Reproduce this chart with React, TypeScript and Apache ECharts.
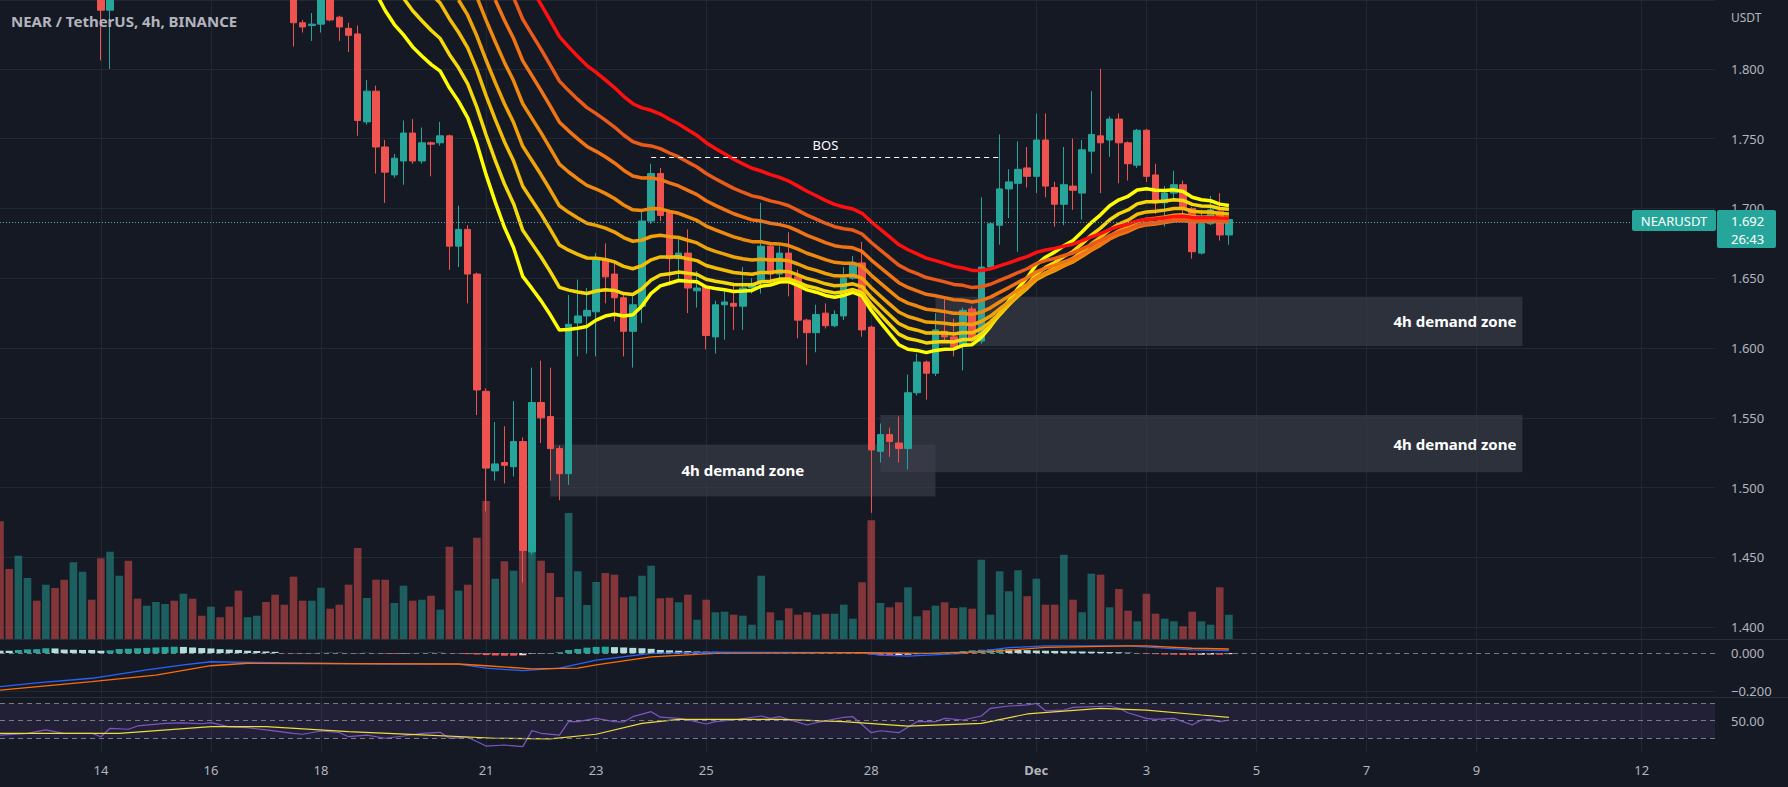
import React, { useEffect, useRef } from "react";
import * as echarts from "echarts";

// ---------------- data ----------------
// one category per 4h bar, first category = 12 Nov 2022 04:00 (UTC)
const firstBarTime = Date.UTC(2022, 10, 12, 4);
const barCount = 188;

const tickDates = ["11-14", "11-16", "11-18", "11-21", "11-23", "11-25", "11-28", "12-01", "12-03", "12-05", "12-07", "12-09", "12-12"];
const tickLabels = ["14", "16", "18", "21", "23", "25", "28", "Dec", "3", "5", "7", "9", "12"];

// [open, close, low, high]; null = bar above the visible price range
type Bar = [number, number, number, number] | null;
const candles: Bar[] = [
  null, null, null, null, null, null, null, null, null, null, null,
  [1.870, 1.842, 1.806, 1.880], [1.842, 1.870, 1.800, 1.880],
  null, null, null, null, null, null, null, null, null, null,
  null, null, null, null, null, null, null, null, null,
  [1.862, 1.833, 1.816, 1.870], [1.833, 1.830, 1.826, 1.835], [1.831, 1.832, 1.820, 1.840],
  [1.832, 1.852, 1.826, 1.860], [1.852, 1.835, 1.834, 1.860], [1.837, 1.830, 1.820, 1.838],
  [1.829, 1.824, 1.812, 1.833], [1.825, 1.763, 1.752, 1.831], [1.762, 1.784, 1.760, 1.792],
  [1.784, 1.744, 1.725, 1.788], [1.744, 1.726, 1.704, 1.749], [1.724, 1.736, 1.722, 1.739],
  [1.734, 1.754, 1.717, 1.763], [1.754, 1.734, 1.732, 1.764], [1.734, 1.747, 1.732, 1.758],
  [1.747, 1.746, 1.723, 1.748], [1.747, 1.752, 1.745, 1.762], [1.752, 1.673, 1.656, 1.753],
  [1.673, 1.685, 1.658, 1.702], [1.685, 1.653, 1.632, 1.688], [1.653, 1.570, 1.552, 1.654],
  [1.569, 1.514, 1.483, 1.571], [1.512, 1.517, 1.505, 1.547], [1.518, 1.516, 1.503, 1.544],
  [1.515, 1.533, 1.508, 1.562], [1.533, 1.455, 1.432, 1.536], [1.454, 1.561, 1.452, 1.586],
  [1.561, 1.550, 1.532, 1.591], [1.551, 1.528, 1.505, 1.586], [1.528, 1.510, 1.491, 1.530],
  [1.510, 1.617, 1.502, 1.638], [1.618, 1.623, 1.594, 1.649], [1.623, 1.627, 1.596, 1.643],
  [1.626, 1.663, 1.594, 1.668], [1.663, 1.651, 1.632, 1.675], [1.653, 1.636, 1.619, 1.661],
  [1.636, 1.612, 1.594, 1.638], [1.612, 1.631, 1.586, 1.637], [1.630, 1.691, 1.618, 1.699],
  [1.691, 1.725, 1.689, 1.732], [1.725, 1.695, 1.691, 1.729], [1.697, 1.664, 1.645, 1.699],
  [1.664, 1.668, 1.648, 1.678], [1.668, 1.643, 1.625, 1.685], [1.641, 1.643, 1.629, 1.655],
  [1.644, 1.609, 1.599, 1.645], [1.608, 1.631, 1.596, 1.634], [1.631, 1.633, 1.606, 1.642],
  [1.632, 1.630, 1.613, 1.646], [1.630, 1.643, 1.613, 1.658], [1.643, 1.646, 1.639, 1.650],
  [1.647, 1.673, 1.639, 1.704], [1.673, 1.653, 1.648, 1.675], [1.653, 1.668, 1.648, 1.673],
  [1.668, 1.650, 1.637, 1.683], [1.651, 1.620, 1.607, 1.656], [1.620, 1.611, 1.588, 1.621],
  [1.611, 1.624, 1.597, 1.631], [1.625, 1.616, 1.614, 1.632], [1.616, 1.624, 1.615, 1.627],
  [1.623, 1.650, 1.620, 1.658], [1.650, 1.661, 1.649, 1.666], [1.661, 1.613, 1.608, 1.676],
  [1.615, 1.527, 1.482, 1.616], [1.526, 1.538, 1.518, 1.546], [1.538, 1.533, 1.522, 1.543],
  [1.532, 1.528, 1.518, 1.551], [1.528, 1.568, 1.513, 1.581], [1.568, 1.590, 1.566, 1.596],
  [1.590, 1.582, 1.563, 1.591], [1.582, 1.613, 1.580, 1.625], [1.612, 1.608, 1.605, 1.637],
  [1.608, 1.601, 1.594, 1.621], [1.602, 1.627, 1.584, 1.629], [1.628, 1.606, 1.604, 1.630],
  [1.605, 1.658, 1.603, 1.708], [1.658, 1.689, 1.656, 1.690], [1.688, 1.714, 1.674, 1.753],
  [1.714, 1.719, 1.693, 1.728], [1.718, 1.728, 1.669, 1.748], [1.729, 1.723, 1.715, 1.744],
  [1.723, 1.749, 1.711, 1.768], [1.749, 1.716, 1.708, 1.768], [1.715, 1.703, 1.687, 1.719],
  [1.703, 1.717, 1.688, 1.744], [1.716, 1.713, 1.699, 1.750], [1.711, 1.742, 1.692, 1.749],
  [1.741, 1.753, 1.725, 1.784], [1.752, 1.747, 1.711, 1.800], [1.749, 1.764, 1.737, 1.766],
  [1.764, 1.747, 1.718, 1.768], [1.747, 1.732, 1.720, 1.748], [1.731, 1.756, 1.729, 1.757],
  [1.756, 1.723, 1.719, 1.757], [1.724, 1.704, 1.696, 1.732], [1.704, 1.711, 1.687, 1.716],
  [1.711, 1.717, 1.706, 1.727], [1.717, 1.700, 1.695, 1.720], [1.700, 1.669, 1.664, 1.701],
  [1.668, 1.689, 1.667, 1.699], [1.689, 1.699, 1.688, 1.709], [1.698, 1.681, 1.677, 1.711],
  [1.681, 1.692, 1.674, 1.693],
];

// direction of the bars whose candles are off-screen (T = up, R = down)
const hiddenBarDirections = "RRTTRTRRTTRRTTRRTTTRTRRTRRRTTRRR";

const volumes = [
  117.7, 70, 83.3, 61, 38.3, 54.3, 51, 59.3, 76.7, 67.3,
  39.3, 80.7, 87.3, 63.3, 78.3, 40.3, 33.3, 37, 35, 38.3,
  45.3, 40.3, 23.3, 32.3, 21.7, 32.3, 48.3, 21.7, 23.3, 37,
  44.3, 34.3, 62.3, 38.3, 38.3, 51.3, 30.3, 34.3, 54.3, 91,
  41, 59.3, 59.3, 36, 53.3, 38.3, 39.3, 43.3, 29.3, 92.3,
  48.3, 54.3, 101.3, 138, 60.3, 77.7, 68.3, 103.3, 87.7, 78.3,
  66, 42, 126, 67.7, 34, 57, 66, 64.3, 41.7, 42.7,
  63.3, 73.3, 40.7, 41.3, 36.7, 44.3, 19.3, 39.3, 26.7, 27.3,
  24.3, 23.3, 14.3, 63.3, 26.7, 18.7, 30.7, 24.3, 26.7, 24.3,
  25.3, 25.3, 34.3, 20.3, 56.7, 118.7, 36, 31.7, 36.7, 51.7,
  22.7, 28.7, 33.3, 36.7, 31, 31.7, 30.3, 79.3, 24.3, 67.7,
  47.7, 68.7, 42.7, 60.3, 34.3, 34.3, 84.3, 39.3, 26.7, 65.3,
  64.3, 31.7, 50, 28.3, 17.7, 45.3, 25.3, 20.3, 17.7, 12.7,
  27.3, 17.7, 14.3, 51.7, 24.3,
];

// EMA ribbon: periods and the value each line has where it enters the chart
const emaPeriods = [20, 25, 30, 35, 40, 45, 50, 55];
const emaColors = ["#ffff00", "#f6d90a", "#f2bd08", "#f0a20a", "#f08a0e", "#f07416", "#ea5a1a", "#ff1010"];
const emaEntry: [number, number][] = [
  [41, 1.854], [44, 1.8506], [47, 1.8537], [50, 1.8493],
  [52, 1.8514], [54, 1.8493], [56, 1.851], [58, 1.857],
];

const lastPrice = 1.692;
const countdown = "26:43";
const bos = { level: 1.737, from: 71, to: 109 };
const demandZones = [
  { from: 60, to: 102, top: 1.531, bottom: 1.4937, centered: true },
  { from: 96, to: 166, top: 1.552, bottom: 1.511, centered: false },
  { from: 102, to: 166, top: 1.6368, bottom: 1.6015, centered: false },
];

const macdHist = [
  0.012, 0.012, 0.016, 0.019, 0.020, 0.025, 0.024, 0.018, 0.017, 0.016,
  0.016, 0.012, 0.014, 0.021, 0.022, 0.025, 0.027, 0.029, 0.031, 0.033,
  0.032, 0.029, 0.026, 0.024, 0.020, 0.018, 0.016, 0.012, 0.010, 0.008,
  0.006, -0.001, -0.002, -0.002, -0.001, 0.001, 0.002, 0.001, -0.001, -0.002,
  0.001, -0.001, -0.003, -0.004, -0.003, -0.001, 0.001, 0.002, 0.001, -0.001,
  -0.002, -0.006, -0.008, -0.011, -0.013, -0.014, -0.014, -0.012, -0.004, -0.003,
  -0.002, 0.004, 0.016, 0.021, 0.028, 0.032, 0.033, 0.031, 0.029, 0.027,
  0.025, 0.022, 0.016, 0.014, 0.012, 0.010, 0.008, 0.007, 0.006, 0.005,
  0.003, 0.002, 0.002, 0.003, 0.002, 0.002, 0.001, -0.001, -0.001, 0.001,
  0.001, 0.002, 0.002, 0.002, -0.002, -0.008, -0.012, -0.013, -0.011, -0.009,
  -0.006, -0.004, -0.001, 0.003, 0.006, 0.010, 0.014, 0.017, 0.019, 0.020,
  0.019, 0.017, 0.015, 0.013, 0.012, 0.011, 0.010, 0.009, 0.008, 0.007,
  0.006, 0.005, 0.004, 0.002, -0.002, -0.004, -0.006, -0.008, -0.009, -0.010,
  -0.010, -0.009, -0.008, -0.009, -0.006,
];
const macdLine: [number, number][] = [
  [0, -0.177], [4, -0.157], [10, -0.133], [16, -0.089], [20, -0.063], [23, -0.046], [27, -0.049],
  [35, -0.054], [42, -0.059], [50, -0.059], [53, -0.080], [57, -0.093], [61, -0.080], [65, -0.037],
  [71, -0.002], [78, 0.004], [94, 0.002], [96, -0.011], [99, -0.016], [105, -0.002], [110, 0.028],
  [114, 0.037], [123, 0.038], [130, 0.016], [134, 0.012],
];
const macdSignal: [number, number][] = [
  [0, -0.195], [10, -0.151], [17, -0.116], [23, -0.067], [27, -0.054], [50, -0.058], [53, -0.067],
  [58, -0.084], [63, -0.080], [65, -0.063], [71, -0.020], [78, -0.002], [94, 0.002], [101, -0.002],
  [108, 0.007], [114, 0.030], [123, 0.037], [125, 0.037], [130, 0.025], [134, 0.021],
];
const rsiLine: [number, number][] = [
  [0, 33.6], [3, 35.6], [5, 39.4], [7, 35.6], [10, 35.6], [11, 31.7], [12, 41.3], [14, 40.2], [15, 44],
  [18, 47], [20, 47.5], [22, 46.5], [23, 47.7], [25, 43], [27, 42], [29, 39.4], [32, 35.6], [33, 34.5],
  [35, 38.2], [37, 36.5], [38, 31.7], [40, 33.5], [42, 29.9], [44, 32.5], [46, 35.6], [48, 36.7], [49, 30],
  [51, 31], [53, 21], [55, 22.2], [57, 20.3], [58, 38.6], [59, 35.6], [61, 33.6], [62, 48.9], [63, 48.9],
  [65, 52.7], [67, 48.9], [68, 48.5], [69, 54.6], [71, 60.3], [72, 54], [74, 52.7], [75, 51], [77, 46.2],
  [78, 48.9], [80, 50.8], [83, 55.4], [84, 52.7], [85, 54.6], [88, 45.1], [89, 47.7], [92, 53.9],
  [93, 54.6], [95, 36.3], [96, 38.5], [98, 36.3], [100, 48.9], [102, 48.9], [103, 52.7], [105, 50.8],
  [107, 55.4], [108, 64.2], [110, 66.8], [112, 68], [113, 69.9], [114, 61.4], [116, 62.2], [117, 65.3],
  [121, 66.8], [122, 64.2], [123, 59.1], [125, 52.7], [126, 51.6], [128, 52.7], [130, 45.1], [131, 50.8],
  [132, 51.6], [133, 48.9], [134, 50.8],
];
const rsiAverage: [number, number][] = [
  [0, 35.6], [13, 35.6], [23, 43.2], [29, 43.2], [38, 37.5], [46, 33.7], [54, 29.9], [60, 29.1],
  [65, 34.5], [70, 47], [74, 51.6], [85, 51.6], [92, 48.9], [99, 43.9], [107, 47], [112, 57.7],
  [120, 64.2], [125, 62.2], [131, 56.5], [134, 53.9],
];

// ---------------- styling ----------------
const BG = "#151924";
const GRID = "#232733";
const TXT = "#b2b5be";
const UP = "#26a69a";
const DOWN = "#ef5350";
const FONT = '"Noto Sans", sans-serif';
const RIGHT = 73;

function pad(n: number) { return String(n).padStart(2, "0"); }
const categories: string[] = Array.from({ length: barCount }, (_, k) => {
  const d = new Date(firstBarTime + k * 4 * 3600 * 1000);
  return `${pad(d.getUTCMonth() + 1)}-${pad(d.getUTCDate())} ${pad(d.getUTCHours())}:00`;
});
const isTick = (c: string) => c.endsWith("00:00") && tickDates.indexOf(c.slice(0, 5)) >= 0;
const tickFlags = categories.map(isTick);

function sparse(points: [number, number][]) {
  const arr: (number | null)[] = new Array(volumes.length).fill(null);
  points.forEach(([k, v]) => { arr[k] = v; });
  return arr;
}

function ema(period: number, entry: [number, number]) {
  const [k0, v0] = entry;
  const a = 2 / (period + 1);
  const out: (number | null)[] = new Array(candles.length).fill(null);
  let e = v0;
  out[k0] = v0;
  for (let k = k0 + 1; k < candles.length; k++) {
    const c = candles[k];
    if (!c) continue;
    e = e + a * (c[1] - e);
    out[k] = Number(e.toFixed(4));
  }
  return out;
}

function buildOption(): any {
  const isUp = (k: number) => {
    const c = candles[k];
    return c ? c[1] >= c[0] : hiddenBarDirections[k] === "T";
  };
  const xAxis = (gridIndex: number, labels: boolean, split: boolean) => ({
    type: "category",
    gridIndex,
    data: categories,
    boundaryGap: false,
    axisLine: { show: false },
    axisTick: { show: false },
    axisPointer: { show: false },
    axisLabel: labels
      ? {
          show: true,
          interval: (i: number) => tickFlags[i],
          color: TXT,
          fontSize: 13,
          fontFamily: FONT,
          margin: 11,
          formatter: (v: string) => {
            const t = tickLabels[tickDates.indexOf(v.slice(0, 5))];
            return t === "Dec" ? "{b|Dec}" : t;
          },
          rich: { b: { fontWeight: "bold", color: TXT, fontSize: 13, fontFamily: FONT } },
        }
      : { show: false },
    splitLine: { show: split, interval: (i: number) => tickFlags[i], lineStyle: { color: GRID, width: 1 } },
  });

  const histData = macdHist.map((h, k) => {
    const prev = k > 0 ? macdHist[k - 1] : h;
    let color;
    if (h >= 0) color = prev < h ? "#26a69a" : "#b2dfdb";
    else color = prev < h ? "#ffcdd2" : "#ff5252";
    return { value: h, itemStyle: { color } };
  });

  const series: any[] = [
    {
      type: "bar",
      name: "volume",
      xAxisIndex: 1,
      yAxisIndex: 1,
      barWidth: 7.6,
      z: 1,
      data: volumes.map((v, k) => ({
        value: v,
        itemStyle: { color: isUp(k) ? "rgba(38,166,154,0.5)" : "rgba(239,83,80,0.5)" },
      })),
    },
    {
      type: "candlestick",
      name: "NEARUSDT",
      xAxisIndex: 0,
      yAxisIndex: 0,
      barWidth: 7,
      clip: true,
      z: 2,
      itemStyle: { color: UP, color0: DOWN, borderColor: UP, borderColor0: DOWN, borderWidth: 1 },
      data: candles.map((c) => (c ? c : ["-", "-", "-", "-"])),
      markLine: {
        silent: true,
        symbol: ["none", "none"],
        label: { show: false },
        lineStyle: { color: "#5fa3b3", type: [1, 2], width: 1 },
        data: [{ yAxis: lastPrice }],
      },
    },
    ...emaPeriods.map((p, j) => ({
      type: "line",
      name: `EMA ${p}`,
      xAxisIndex: 0,
      yAxisIndex: 0,
      showSymbol: false,
      clip: true,
      z: 3,
      lineStyle: { color: emaColors[j], width: 3.5 },
      data: ema(p, emaEntry[j]),
    })),
    {
      type: "line",
      name: "zones",
      xAxisIndex: 0,
      yAxisIndex: 0,
      data: [],
      z: 5,
      markArea: {
        silent: true,
        itemStyle: { color: "rgba(62,65,77,0.6)" },
        label: { show: true, color: "#ffffff", fontSize: 15, fontWeight: "bold", fontFamily: FONT },
        data: demandZones.map((zn) => [
          {
            name: "4h demand zone",
            xAxis: categories[zn.from],
            yAxis: zn.top,
            label: { position: zn.centered ? "inside" : "insideRight", distance: 6 },
          },
          { xAxis: categories[zn.to], yAxis: zn.bottom },
        ]),
      },
    },
    {
      type: "line",
      name: "bos",
      xAxisIndex: 0,
      yAxisIndex: 0,
      data: [],
      z: 6,
      markLine: {
        silent: true,
        symbol: ["none", "none"],
        lineStyle: { color: "#ffffff", type: [5, 4], width: 1 },
        label: { show: true, position: "insideMiddleTop", formatter: "BOS", color: "#ffffff", fontSize: 13, fontFamily: FONT, distance: 5 },
        data: [[{ coord: [categories[bos.from], bos.level] }, { coord: [categories[bos.to], bos.level] }]],
      },
    },
    {
      type: "bar",
      name: "histogram",
      xAxisIndex: 2,
      yAxisIndex: 2,
      barWidth: 7,
      data: histData,
      markLine: {
        silent: true,
        symbol: ["none", "none"],
        label: { show: false },
        data: [
          { yAxis: 0, lineStyle: { color: "#787b86", type: [5, 4], width: 1 } },
          { yAxis: -0.2, lineStyle: { color: GRID, type: "solid", width: 1 } },
        ],
      },
    },
    {
      type: "line",
      name: "MACD",
      xAxisIndex: 2,
      yAxisIndex: 2,
      showSymbol: false,
      connectNulls: true,
      lineStyle: { color: "#2962ff", width: 1.3 },
      data: sparse(macdLine),
    },
    {
      type: "line",
      name: "Signal",
      xAxisIndex: 2,
      yAxisIndex: 2,
      showSymbol: false,
      connectNulls: true,
      lineStyle: { color: "#ff6d00", width: 1.3 },
      data: sparse(macdSignal),
    },
    {
      type: "line",
      name: "RSI",
      xAxisIndex: 3,
      yAxisIndex: 3,
      showSymbol: false,
      connectNulls: true,
      lineStyle: { color: "#7e57c2", width: 1.2 },
      data: sparse(rsiLine),
      markArea: {
        silent: true,
        itemStyle: { color: "rgba(126,87,194,0.12)" },
        data: [[{ yAxis: 70 }, { yAxis: 30 }]],
      },
      markLine: {
        silent: true,
        symbol: ["none", "none"],
        label: { show: false },
        lineStyle: { color: "#787b86", type: [5, 4], width: 1 },
        data: [{ yAxis: 70 }, { yAxis: 50 }, { yAxis: 30 }],
      },
    },
    {
      type: "line",
      name: "RSI MA",
      xAxisIndex: 3,
      yAxisIndex: 3,
      showSymbol: false,
      connectNulls: true,
      lineStyle: { color: "#eadd3c", width: 1.2 },
      data: sparse(rsiAverage),
    },
  ];

  return {
    animation: false,
    backgroundColor: BG,
    textStyle: { fontFamily: FONT },
    grid: [
      { left: 0, right: RIGHT, top: 0, height: 639, outerBoundsMode: "none" },
      { left: 0, right: RIGHT, top: 439, height: 200, outerBoundsMode: "none" },
      { left: 0, right: RIGHT, top: 639, height: 58, outerBoundsMode: "none" },
      { left: 0, right: RIGHT, top: 697, height: 55, outerBoundsMode: "none" },
    ],
    xAxis: [xAxis(0, false, true), xAxis(1, false, false), xAxis(2, false, true), xAxis(3, true, true)],
    yAxis: [
      {
        type: "value",
        gridIndex: 0,
        position: "right",
        min: 1.3916,
        max: 1.8493,
        splitNumber: 9,
        axisLine: { show: false },
        axisTick: { show: false },
        axisLabel: {
          color: TXT,
          fontSize: 13,
          fontFamily: FONT,
          margin: 16,
          showMinLabel: false,
          showMaxLabel: false,
          formatter: (v: number) => v.toFixed(3),
        },
        splitLine: { lineStyle: { color: GRID, width: 1 } },
      },
      { type: "value", gridIndex: 1, min: 0, max: 200, show: false },
      {
        type: "value",
        gridIndex: 2,
        position: "right",
        min: -0.2316,
        max: 0.0737,
        axisLine: { show: false },
        axisTick: { show: false },
        splitLine: { show: false },
        axisLabel: {
          color: TXT,
          fontSize: 13,
          fontFamily: FONT,
          margin: 16,
          customValues: [0, -0.2],
          formatter: (v: number) => (v < 0 ? "\u2212" : "") + Math.abs(v).toFixed(3),
        },
      },
      {
        type: "value",
        gridIndex: 3,
        position: "right",
        min: 14.2,
        max: 77.1,
        axisLine: { show: false },
        axisTick: { show: false },
        splitLine: { show: false },
        axisLabel: {
          color: TXT,
          fontSize: 13,
          fontFamily: FONT,
          margin: 16,
          customValues: [50],
          formatter: (v: number) => v.toFixed(2),
        },
      },
    ],
    series,
    graphic: [
      {
        type: "text",
        z: 100,
        style: { text: "NEAR / TetherUS, 4h, BINANCE", x: 11, y: 21, verticalAlign: "middle", fill: TXT, font: `bold 15px ${FONT}` },
      },
      {
        type: "text",
        z: 100,
        style: { text: "USDT", x: 1731, y: 17, verticalAlign: "middle", fill: TXT, font: `12px ${FONT}` },
      },
      { type: "line", z: 50, shape: { x1: 0, y1: 639.5, x2: 1788, y2: 639.5 }, style: { stroke: "#2a2e39", lineWidth: 1 } },
      { type: "line", z: 50, shape: { x1: 0, y1: 697.5, x2: 1788, y2: 697.5 }, style: { stroke: "#2a2e39", lineWidth: 1 } },
      { type: "rect", z: 100, shape: { x: 1632, y: 210, width: 84, height: 21, r: 2 }, style: { fill: UP } },
      {
        type: "text",
        z: 101,
        style: { text: "NEARUSDT", x: 1674, y: 220.5, align: "center", verticalAlign: "middle", fill: "#ffffff", font: `13px ${FONT}` },
      },
      { type: "rect", z: 100, shape: { x: 1717, y: 210, width: 59, height: 38, r: 2 }, style: { fill: UP } },
      {
        type: "text",
        z: 101,
        style: { text: lastPrice.toFixed(3), x: 1731, y: 220.5, verticalAlign: "middle", fill: "#ffffff", font: `13px ${FONT}` },
      },
      {
        type: "text",
        z: 101,
        style: { text: countdown, x: 1731, y: 238.5, verticalAlign: "middle", fill: "#ffffff", font: `13px ${FONT}` },
      },
    ],
  };
}

export default function App() {
  const ref = useRef<HTMLDivElement>(null);
  useEffect(() => {
    if (!ref.current) return;
    const chart = echarts.init(ref.current, null, { renderer: "svg" });
    chart.setOption(buildOption());
    return () => chart.dispose();
  }, []);
  return (
    <div
      ref={ref}
      style={{ position: "fixed", left: 0, top: 0, width: 1788, height: 787, background: BG }}
    />
  );
}
